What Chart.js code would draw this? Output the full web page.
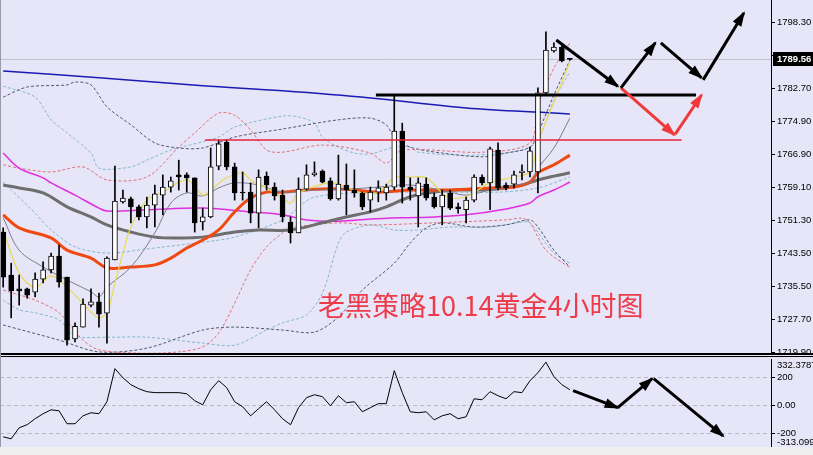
<!DOCTYPE html>
<html>
<head>
<meta charset="utf-8">
<script src="https://cdn.jsdelivr.net/npm/chart.js@4.4.1/dist/chart.umd.min.js"></script>
<style>
  html, body { margin: 0; padding: 0; }
  body { width: 813px; height: 455px; background: #e6e6f8; position: relative; overflow: hidden; }
  #mainBox { position: absolute; left: 0; top: 0; width: 813px; height: 360px; }
  #cciBox { position: absolute; left: 0; top: 352px; width: 813px; height: 103px; }
  .sep { position: absolute; left: 0; width: 813px; background: #000; }
  #foot { position: absolute; left: 0; top: 447px; width: 813px; height: 8px; background: #efefef; }
  #leftEdge { position: absolute; left: 0; top: 0; width: 1px; height: 447px; background: #9a9aa8; }
  #note { position: absolute; left: 318px; top: 291px; font-family: "Noto Sans CJK SC"; font-size: 27px; line-height: 1; color: #ee3b4a; white-space: nowrap; }
</style>
</head>
<body>
<div id="mainBox"><canvas id="mainChart"></canvas></div>
<div id="cciBox"><canvas id="cciChart"></canvas></div>
<div class="sep" style="top:353px;height:2px"></div>
<div class="sep" style="top:356px;height:1px"></div>
<div id="foot"></div>
<div id="leftEdge"></div>
<div id="note">老黑策略10.14黄金4小时图</div>
<script>
// 4H candles
const open  = [1748.5,1738.3,1735.0,1735.0,1734.2,1737.3,1739.5,1742.8,1737.8,1723.1,1725.9,1731.1,1731.9,1729.2,1741.9,1755.7,1756.4,1754.5,1752.1,1754.9,1757.3,1759.2,1762.1,1762.1,1761.4,1750.9,1752.1,1764.2,1769.9,1764.0,1758.0,1758.0,1753.0,1761.8,1759.2,1757.3,1750.9,1748.3,1758.7,1762.1,1763.0,1760.7,1756.4,1759.7,1758.5,1757.8,1756.1,1758.0,1757.8,1759.2,1772.5,1759.2,1757.1,1759.9,1756.8,1754.5,1757.8,1754.5,1753.8,1756.1,1761.6,1760.2,1768.0,1759.7,1759.9,1762.6,1762.8,1762.8,1781.6,1791.6,1792.5,1789.6];
const high  = [1749.5,1741.1,1738.3,1735.2,1738.8,1741.4,1743.5,1745.4,1737.8,1726.9,1732.6,1735.0,1734.0,1742.6,1764.2,1758.5,1756.8,1754.9,1756.8,1759.7,1762.1,1761.6,1765.6,1762.6,1761.4,1754.2,1768.5,1770.4,1770.4,1764.9,1762.8,1760.2,1763.3,1762.8,1760.2,1758.5,1752.1,1761.4,1764.5,1765.2,1763.3,1761.4,1766.8,1764.7,1763.3,1758.0,1759.2,1760.7,1759.9,1781.1,1774.4,1761.4,1761.4,1761.4,1757.8,1758.5,1758.5,1755.4,1756.8,1762.1,1762.1,1768.7,1769.7,1760.2,1763.0,1764.5,1768.7,1782.8,1796.1,1793.5,1793.0,1789.8];
const low   = [1735.4,1728.1,1731.1,1732.8,1733.1,1736.4,1738.8,1735.4,1721.6,1722.4,1725.9,1730.7,1725.9,1722.1,1741.9,1755.4,1750.7,1751.4,1749.5,1749.7,1752.6,1758.0,1758.5,1758.0,1748.5,1749.0,1751.9,1763.3,1763.3,1756.1,1756.1,1750.7,1749.5,1758.5,1756.1,1750.9,1745.9,1748.3,1758.5,1761.8,1760.2,1756.1,1756.1,1752.6,1756.8,1753.8,1753.3,1755.7,1756.1,1758.5,1755.4,1756.1,1749.7,1756.1,1754.2,1750.2,1753.8,1753.0,1750.7,1755.7,1759.7,1753.8,1758.5,1758.5,1759.0,1760.9,1761.6,1757.8,1781.1,1791.3,1789.0,1789.4];
const close = [1737.8,1734.5,1734.5,1733.5,1737.3,1739.5,1742.8,1736.6,1722.8,1726.1,1731.4,1731.9,1729.0,1742.3,1755.9,1756.6,1754.5,1752.1,1754.9,1757.6,1759.2,1760.7,1761.6,1761.4,1750.7,1752.1,1764.0,1769.5,1764.0,1757.8,1757.8,1753.0,1761.6,1759.7,1757.1,1752.1,1748.3,1758.7,1762.1,1762.6,1760.4,1756.4,1759.9,1758.5,1757.8,1754.5,1758.0,1759.0,1759.2,1772.5,1759.2,1758.5,1760.2,1756.6,1754.5,1757.3,1754.2,1754.0,1756.1,1761.6,1760.2,1768.3,1759.0,1759.0,1762.1,1763.0,1767.8,1781.6,1791.8,1792.5,1789.2,1789.56];
const lastPrice = 1789.56;

// moving averages [candle, price]
const maFast  = [[0,1749.0],[2,1738.8],[4,1735.4],[6,1738.1],[8,1735.4],[11,1729.5],[12,1728.1],[13,1729.3],[14,1736.4],[15,1743.5],[16,1749.7],[18,1756.1],[20,1758.0],[23,1760.9],[25,1757.3],[26,1758.5],[28,1761.4],[30,1762.6],[31,1760.9],[33,1759.0],[35,1756.6],[36,1755.4],[37,1757.8],[41,1760.2],[43,1759.2],[45,1757.8],[47,1758.0],[49,1761.4],[51,1761.6],[53,1761.4],[55,1757.8],[56,1756.6],[58,1756.9],[61,1760.2],[64,1761.6],[66,1762.8],[67,1769.9],[69,1779.4],[71,1789.0]];
const maTen   = [[0,1751.9],[2,1744.2],[5,1740.2],[8,1737.1],[11,1734.3],[12,1733.1],[13,1735.4],[16,1740.2],[19,1748.3],[21,1755.4],[23,1757.8],[25,1757.1],[27,1759.0],[29,1760.2],[32,1759.7],[35,1758.0],[39,1758.5],[43,1758.7],[47,1759.2],[51,1759.7],[56,1758.0],[58,1757.3],[61,1758.5],[64,1759.7],[66,1760.4],[67,1763.7],[69,1768.5],[71,1775.6]];
const maMid   = [[0,1752.6],[2,1749.5],[6,1747.1],[8,1744.2],[11,1742.3],[13,1740.0],[16,1740.2],[19,1740.7],[21,1742.3],[23,1744.7],[25,1746.6],[27,1749.0],[29,1753.3],[31,1756.6],[33,1758.0],[35,1758.0],[39,1758.7],[43,1758.7],[47,1758.0],[51,1758.5],[56,1758.5],[61,1759.0],[64,1759.2],[66,1760.4],[67,1762.6],[69,1764.5],[71,1766.8]];
const maSlow  = [[0,1759.7],[2,1759.0],[5,1757.8],[8,1754.5],[11,1752.1],[13,1750.2],[16,1748.5],[19,1747.3],[22,1747.1],[25,1747.3],[29,1748.5],[32,1749.0],[36,1749.0],[40,1750.7],[43,1752.1],[46,1753.3],[48,1754.5],[51,1756.9],[54,1758.0],[57,1758.5],[60,1758.5],[63,1759.0],[65,1759.7],[67,1760.9],[69,1761.8],[71,1762.6]];
const ma100   = [[0,1767.3],[2,1763.7],[5,1761.4],[6,1760.2],[9,1757.3],[12,1754.2],[13,1753.5],[18,1753.8],[25,1754.2],[31,1753.3],[35,1752.6],[38,1751.4],[42,1751.1],[46,1751.6],[50,1751.9],[54,1752.1],[58,1752.6],[63,1754.0],[66,1755.4],[67,1756.9],[69,1758.5],[71,1760.4]];
const ma200   = [[0,1786.8],[12,1785.2],[25,1783.3],[35,1782.1],[46,1780.4],[58,1778.0],[69,1776.8],[71,1776.6]];

// band lines [candle, price]
const bandPinkUp  = [[0,1764.5],[2,1763.7],[6,1762.8],[10,1764.0],[13,1760.9],[18,1761.6],[22,1768.7],[24,1772.1],[27,1776.8],[29,1776.3],[31,1772.8],[33,1768.0],[35,1767.5],[40,1769.2],[46,1767.3],[48,1764.9],[50,1768.0],[60,1767.5],[66,1769.7],[67,1778.7],[69,1787.5],[71,1793.5]];
const bandPinkLow = [[0,1734.7],[4,1732.3],[7,1729.3],[10,1722.8],[12,1720.5],[17,1719.7],[22,1720.0],[25,1721.2],[27,1724.5],[29,1731.6],[31,1739.5],[33,1745.0],[35,1748.3],[36,1749.5],[42,1750.7],[46,1750.2],[54,1750.7],[63,1751.4],[65,1751.8],[66,1750.7],[68,1744.2],[71,1740.0]];
const bandGrayUp  = [[0,1780.6],[3,1783.0],[8,1783.5],[9,1784.2],[11,1783.5],[13,1778.3],[16,1774.0],[19,1769.7],[22,1768.5],[25,1768.5],[29,1771.1],[35,1773.0],[42,1775.2],[46,1775.6],[48,1774.0],[49,1771.1],[51,1768.7],[55,1767.3],[60,1766.4],[63,1767.3],[66,1768.7],[67,1772.1],[69,1781.1],[71,1789.4]];
const bandGrayLow = [[0,1726.4],[7,1722.8],[12,1720.0],[18,1720.9],[25,1725.2],[29,1725.9],[35,1725.2],[39,1724.7],[42,1728.3],[45,1734.7],[49,1741.1],[51,1745.9],[53,1749.5],[55,1750.7],[59,1749.7],[63,1750.2],[66,1751.4],[67,1749.7],[69,1744.2],[71,1740.2]];
const bandBlueUp  = [[0,1783.2],[4,1780.6],[6,1775.2],[8,1772.1],[11,1767.3],[12,1763.7],[16,1764.0],[18,1765.6],[21,1768.0],[27,1771.1],[29,1773.5],[35,1776.1],[37,1775.9],[39,1774.4],[40,1771.1],[42,1768.7],[44,1767.3],[46,1767.1],[49,1768.7],[51,1768.7],[52,1767.5],[59,1766.8],[65,1768.0],[67,1770.4],[69,1779.9],[71,1786.6]];
const bandBlueMid = [[0,1760.4],[4,1753.0],[6,1749.0],[9,1745.0],[13,1743.5],[18,1744.5],[25,1746.1],[29,1747.3],[35,1751.4],[39,1756.8],[50,1758.0],[62,1758.0],[67,1759.0],[71,1761.6]];
const bandBlueLow = [[0,1732.3],[2,1730.0],[4,1729.3],[7,1727.6],[9,1723.8],[13,1723.5],[18,1723.5],[25,1722.1],[29,1721.6],[33,1725.2],[35,1726.9],[38,1728.8],[40,1734.0],[42,1745.9],[43,1748.5],[46,1750.2],[49,1749.0],[52,1749.0],[56,1749.7],[61,1749.7],[65,1750.9],[66,1750.7],[69,1743.5],[71,1741.1]];

// drawn objects: levels and arrows [candle, price]
const levelBlack = [[46.7,1781.1],[86.8,1781.1]];
const levelRed   = [[25.3,1770.4],[85.0,1770.4]];
const blackArrows = [
  [[69.3,1794.2],[77.0,1783.2]],
  [[77.4,1782.8],[81.7,1793.5]],
  [[82.4,1793.5],[87.5,1785.2]],
  [[87.7,1784.7],[92.8,1800.6]]
];
const redArrows = [
  [[77.4,1782.8],[84.1,1771.6]],
  [[84.2,1771.8],[87.5,1781.1]]
];

// CCI
const cci = [-226,-240,-161,-139,-96,-60,-32,-39,-132,-132,-75,-53,-60,26,263,198,148,119,98,91,91,91,91,83,33,4,112,177,127,26,-10,-75,-24,26,-32,-96,-139,-17,55,76,62,-3,69,19,26,-46,-17,12,12,249,91,-46,-53,-46,-104,-75,-60,-96,-82,47,40,98,69,47,98,91,177,234,310,206,148,112];
const cciArrows = [
  [[71.4,105],[77.0,-17]],
  [[77.0,-17],[81.3,191]],
  [[81.5,191],[90.2,-219]]
];
const cciTop = 332.3787, cciBottom = -313.099;

const priceTicks = [1798.30, 1790.50, 1782.70, 1774.90, 1766.90, 1759.10, 1751.30, 1743.50, 1735.50, 1727.70, 1719.90];
const cciTicks = [200, 0, -200];

const axisFont = { family: 'Liberation Sans', size: 9.5 };
const xRange = { type: 'linear', min: -0.4, max: 96.2, display: false, offset: false };

const toPts = arr => arr.map(p => ({ x: p[0], y: p[1] }));

function lineDs(arr, color, width, dash, order, tension) {
    return {
        type: 'line', data: toPts(arr), borderColor: color, borderWidth: width,
        borderDash: dash || [], pointRadius: 0, fill: false, order: order,
        tension: tension === undefined ? 0.35 : tension
    };
}
function arrowDs(arr, color) {
    const ds = lineDs(arr, color, 3, [], 0, 0);
    ds.arrow = true;
    return ds;
}

// arrow heads at the end of each arrow dataset
const arrowHeads = {
    id: 'arrowHeads',
    afterDatasetsDraw(chart) {
        const ctx = chart.ctx;
        chart.data.datasets.forEach((ds, i) => {
            if (!ds.arrow) return;
            const pts = chart.getDatasetMeta(i).data;
            const a = pts[pts.length - 2], b = pts[pts.length - 1];
            const ang = Math.atan2(b.y - a.y, b.x - a.x);
            const L = 13, W = 5;
            const bx = b.x - L * Math.cos(ang), by = b.y - L * Math.sin(ang);
            ctx.save();
            ctx.fillStyle = ds.borderColor;
            ctx.beginPath();
            ctx.moveTo(b.x + 2 * Math.cos(ang), b.y + 2 * Math.sin(ang));
            ctx.lineTo(bx + W * Math.sin(ang), by - W * Math.cos(ang));
            ctx.lineTo(bx - W * Math.sin(ang), by + W * Math.cos(ang));
            ctx.closePath();
            ctx.fill();
            ctx.restore();
        });
    }
};

// black box with the last price on the axis
const priceBox = {
    id: 'priceBox',
    afterDraw(chart) {
        const ctx = chart.ctx;
        const y = chart.scales.y.getPixelForValue(lastPrice);
        const x = chart.chartArea.right + 2;
        ctx.save();
        ctx.fillStyle = '#000';
        ctx.fillRect(x, Math.round(y) - 7, 42, 14);
        ctx.fillStyle = '#fff';
        ctx.font = 'bold 9.5px "Liberation Sans"';
        ctx.textBaseline = 'middle';
        ctx.fillText(lastPrice.toFixed(2), x + 4, y);
        ctx.restore();
    }
};

// min / max labels of the CCI window
const cciRange = {
    id: 'cciRange',
    afterDraw(chart) {
        const ctx = chart.ctx;
        const s = chart.scales.y;
        ctx.save();
        ctx.fillStyle = '#000';
        ctx.font = '9.5px "Liberation Sans"';
        ctx.textBaseline = 'middle';
        ctx.fillText(String(cciTop), s.left + 6, s.top + 6);
        ctx.fillText(String(cciBottom), s.left + 6, s.bottom - 7);
        ctx.restore();
    }
};

const idx = open.map((_, i) => i);

new Chart(document.getElementById('mainChart'), {
    type: 'bar',
    data: {
        datasets: [
            arrowDs(blackArrows[0], '#000'),
            arrowDs(blackArrows[1], '#000'),
            arrowDs(blackArrows[2], '#000'),
            arrowDs(blackArrows[3], '#000'),
            arrowDs(redArrows[0], '#f03a3a'),
            arrowDs(redArrows[1], '#f03a3a'),
            lineDs(levelBlack, '#000', 3, [], 1, 0),
            lineDs(levelRed, '#e8203c', 1.3, [], 1, 0),
            {
                type: 'bar',
                data: idx.map(i => ({ x: i, y: [open[i], close[i]] })),
                backgroundColor: idx.map(i => close[i] >= open[i] ? '#ffffff' : '#000000'),
                borderColor: '#000', borderWidth: 1, borderSkipped: false,
                barThickness: 5, grouped: false, minBarLength: 1, order: 2
            },
            {
                type: 'bar',
                data: idx.map(i => ({ x: i, y: [low[i], high[i]] })),
                backgroundColor: '#000', barThickness: 1, grouped: false, order: 3
            },
            lineDs(maFast, '#e8da52', 1.2, [], 4),
            lineDs(maTen, '#7c7c88', 1, [], 4),
            lineDs(maMid, '#f04a12', 3, [], 4),
            lineDs(maSlow, '#6e6e6e', 3, [], 4),
            lineDs(ma100, '#e02ee0', 1.5, [], 4),
            lineDs(ma200, '#1a1ab4', 1.5, [], 4),
            lineDs(bandPinkUp, '#e0707a', 1, [3, 2], 5, 0.3),
            lineDs(bandPinkLow, '#e0707a', 1, [3, 2], 5, 0.3),
            lineDs(bandGrayUp, '#55556e', 1, [3, 2], 5, 0.3),
            lineDs(bandGrayLow, '#55556e', 1, [3, 2], 5, 0.3),
            lineDs(bandBlueUp, '#82b8cc', 1, [3, 2], 5, 0.3),
            lineDs(bandBlueMid, '#82b8cc', 1, [3, 2], 5, 0.3),
            lineDs(bandBlueLow, '#82b8cc', 1, [3, 2], 5, 0.3),
            lineDs([[-0.4, lastPrice], [96.2, lastPrice]], '#c0c0c8', 1, [], 6, 0)
        ]
    },
    options: {
        responsive: true, maintainAspectRatio: false, animation: false,
        layout: { padding: { top: 0, bottom: 6, left: 0, right: 0 } },
        plugins: { legend: { display: false }, tooltip: { enabled: false } },
        scales: {
            x: xRange,
            y: {
                position: 'right', min: 1719.5, max: 1803.7,
                afterBuildTicks: s => { s.ticks = priceTicks.map(v => ({ value: v })); },
                afterFit: s => { s.width = 42; s.paddingTop = 0; s.paddingBottom = 0; },
                ticks: { autoSkip: false, padding: 2, color: '#000', font: axisFont, callback: v => Number(v).toFixed(2) },
                grid: { drawOnChartArea: false, tickLength: 4, tickColor: '#000', color: '#000' },
                border: { display: true, color: '#000', width: 1 }
            }
        }
    },
    plugins: [arrowHeads, priceBox]
});

new Chart(document.getElementById('cciChart'), {
    type: 'line',
    data: {
        datasets: [
            arrowDs(cciArrows[0], '#000'),
            arrowDs(cciArrows[1], '#000'),
            arrowDs(cciArrows[2], '#000'),
            lineDs(cci.map((v, i) => [i, v]), '#000', 1, [], 1, 0)
        ]
    },
    options: {
        responsive: true, maintainAspectRatio: false, animation: false,
        layout: { padding: { top: 7, bottom: 6, left: 0, right: 0 } },
        plugins: { legend: { display: false }, tooltip: { enabled: false } },
        scales: {
            x: xRange,
            y: {
                position: 'right', min: cciBottom, max: cciTop,
                afterBuildTicks: s => { s.ticks = cciTicks.map(v => ({ value: v })); },
                afterFit: s => { s.width = 42; s.paddingTop = 0; s.paddingBottom = 0; },
                ticks: { autoSkip: false, padding: 2, color: '#000', font: axisFont, callback: v => v === 0 ? '0.00' : String(v) },
                grid: { drawOnChartArea: true, tickLength: 4, tickColor: '#000', color: '#b8b8c6', tickBorderDash: [] },
                border: { display: true, color: '#000', width: 1, dash: [4, 3] }
            }
        }
    },
    plugins: [arrowHeads, cciRange]
});
</script>
</body>
</html>
